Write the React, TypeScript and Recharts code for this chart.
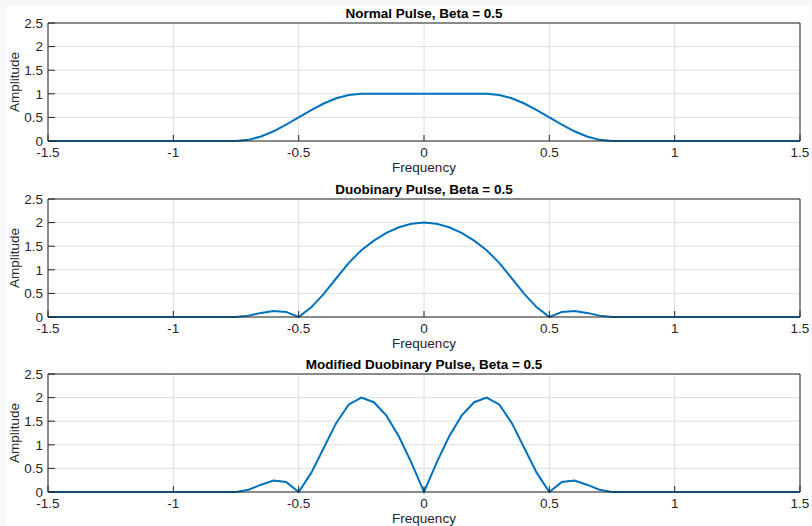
import { LineChart, Line, XAxis, YAxis, CartesianGrid } from 'recharts';

const freq = [
  -1.5, -1.45, -1.4, -1.35, -1.3, -1.25, -1.2, -1.15, -1.1, -1.05,
  -1, -0.95, -0.9, -0.85, -0.8, -0.75, -0.7, -0.65, -0.6, -0.55,
  -0.5, -0.45, -0.4, -0.35, -0.3, -0.25, -0.2, -0.15, -0.1, -0.05,
  0,
  0.05, 0.1, 0.15, 0.2, 0.25, 0.3, 0.35, 0.4, 0.45, 0.5,
  0.55, 0.6, 0.65, 0.7, 0.75, 0.8, 0.85, 0.9, 0.95, 1,
  1.05, 1.1, 1.15, 1.2, 1.25, 1.3, 1.35, 1.4, 1.45, 1.5,
];

const normalPulse = [
  0, 0, 0, 0, 0, 0, 0, 0, 0, 0,
  0, 0, 0, 0, 0, 0, 0.024, 0.095, 0.206, 0.345,
  0.5, 0.655, 0.794, 0.905, 0.976, 1, 1, 1, 1, 1,
  1,
  1, 1, 1, 1, 1, 0.976, 0.905, 0.794, 0.655, 0.5,
  0.345, 0.206, 0.095, 0.024, 0, 0, 0, 0, 0, 0,
  0, 0, 0, 0, 0, 0, 0, 0, 0, 0,
];

const duobinaryPulse = [
  0, 0, 0, 0, 0, 0, 0, 0, 0, 0,
  0, 0, 0, 0, 0, 0, 0.029, 0.087, 0.127, 0.108,
  0, 0.205, 0.491, 0.821, 1.147, 1.414, 1.618, 1.782, 1.902, 1.975,
  2,
  1.975, 1.902, 1.782, 1.618, 1.414, 1.147, 0.821, 0.491, 0.205, 0,
  0.108, 0.127, 0.087, 0.029, 0, 0, 0, 0, 0, 0,
  0, 0, 0, 0, 0, 0, 0, 0, 0, 0,
];

const modifiedDuobinaryPulse = [
  0, 0, 0, 0, 0, 0, 0, 0, 0, 0,
  0, 0, 0, 0, 0, 0, 0.047, 0.155, 0.242, 0.214,
  0, 0.405, 0.933, 1.464, 1.855, 2, 1.902, 1.618, 1.176, 0.618,
  0,
  0.618, 1.176, 1.618, 1.902, 2, 1.855, 1.464, 0.933, 0.405, 0,
  0.214, 0.242, 0.155, 0.047, 0, 0, 0, 0, 0, 0,
  0, 0, 0, 0, 0, 0, 0, 0, 0, 0,
];

const xTicks = [-1.5, -1, -0.5, 0, 0.5, 1, 1.5];
const yTicks = [0, 0.5, 1, 1.5, 2, 2.5];

const titles = [
  'Normal Pulse, Beta = 0.5',
  'Duobinary Pulse, Beta = 0.5',
  'Modified Duobinary Pulse, Beta = 0.5',
];

const AXIS = '#262626';
const FONT = '"Liberation Sans", Arial, Helvetica, sans-serif';

function PulsePlot({ title, values }: { title: string; values: number[] }) {
  const data = freq.map((f, i) => ({ f, amp: values[i] }));
  return (
    <LineChart width={812} height={175} data={data} margin={{ top: 22, right: 11, bottom: 0, left: 0 }}>
      <CartesianGrid stroke="#dedede" />
      <XAxis
        dataKey="f"
        type="number"
        domain={[-1.5, 1.5]}
        ticks={xTicks}
        interval={0}
        height={34}
        tickSize={-6}
        tickMargin={12}
        stroke={AXIS}
        tick={{ fill: AXIS, fontSize: 13.5 }}
        label={{ value: 'Frequency', position: 'insideBottom', offset: 3, fill: AXIS, fontSize: 13.5 }}
      />
      <XAxis
        xAxisId="top"
        orientation="top"
        type="number"
        domain={[-1.5, 1.5]}
        ticks={xTicks}
        interval={0}
        height={1}
        tickSize={-6}
        tick={false}
        stroke={AXIS}
        label={{ value: title, position: 'top', offset: 4, fill: '#000', fontSize: 13.5, fontWeight: 'bold' }}
      />
      <YAxis
        type="number"
        domain={[0, 2.5]}
        ticks={yTicks}
        interval={0}
        width={48}
        tickSize={-7}
        tickMargin={12}
        stroke={AXIS}
        tick={{ fill: AXIS, fontSize: 13.5 }}
        label={{ value: 'Amplitude', angle: -90, position: 'insideLeft', offset: 14.5, fill: AXIS, fontSize: 13.5, style: { textAnchor: 'middle' } }}
      />
      <YAxis
        yAxisId="right"
        orientation="right"
        type="number"
        domain={[0, 2.5]}
        ticks={yTicks}
        interval={0}
        width={1}
        tickSize={-7}
        tick={false}
        stroke={AXIS}
      />
      <Line
        dataKey="amp"
        type="linear"
        stroke="#0072BD"
        strokeWidth={2}
        dot={false}
        isAnimationActive={false}
      />
    </LineChart>
  );
}

export default function App() {
  const series = [normalPulse, duobinaryPulse, modifiedDuobinaryPulse];
  const tops = [0, 176, 351];
  return (
    <div style={{ position: 'absolute', left: 0, top: 0, width: 812, height: 526, background: '#f7f7f7', fontFamily: FONT }}>
      <div style={{ position: 'absolute', left: 7, top: 5, width: 802, height: 521, background: '#fff' }} />
      {series.map((values, i) => (
        <div key={titles[i]} style={{ position: 'absolute', left: 0, top: tops[i] }}>
          <PulsePlot title={titles[i]} values={values} />
        </div>
      ))}
    </div>
  );
}
